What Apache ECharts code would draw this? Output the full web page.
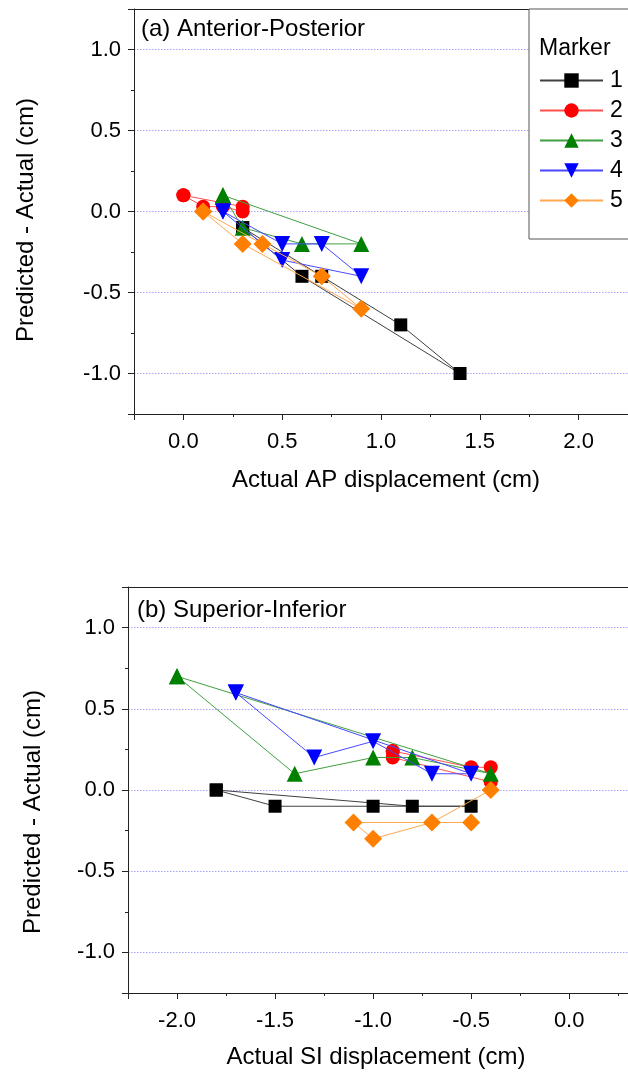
<!DOCTYPE html>
<html>
<head>
<meta charset="utf-8">
<script src="https://cdn.jsdelivr.net/npm/echarts@6/dist/echarts.min.js"></script>
<style>
html,body{margin:0;padding:0;background:#fff;}
#chart{width:628px;height:1079px;}
</style>
</head>
<body>
<div id="chart"></div>
<script>
// ---- Data: (a) Anterior-Posterior: [actual AP displacement, predicted - actual] ----
const markerNames = ['1', '2', '3', '4', '5'];
const ap1 = [[0.3, -0.1], [0.7, -0.4], [1.1, -0.7], [1.4, -1.0], [0.6, -0.4], [0.3, -0.1]];
const ap2 = [[0.0, 0.1], [0.3, 0.03], [0.3, 0.0], [0.2, 0.03], [0.1, 0.03], [0.0, 0.1]];
const ap3 = [[0.2, 0.1], [0.9, -0.2], [0.6, -0.2], [0.3, -0.1], [0.2, 0.1]];
const ap4 = [[0.2, 0.0], [0.5, -0.2], [0.7, -0.2], [0.9, -0.4], [0.5, -0.3], [0.2, 0.0]];
const ap5 = [[0.1, 0.0], [0.4, -0.2], [0.7, -0.4], [0.9, -0.6], [0.3, -0.2], [0.1, 0.0]];

// ---- Data: (b) Superior-Inferior: [actual SI displacement, predicted - actual] ----
const si1 = [[-1.8, 0.0], [-1.5, -0.1], [-1.0, -0.1], [-0.5, -0.1], [-0.8, -0.1], [-1.8, 0.0]];
const si2 = [[-0.9, 0.24], [-0.5, 0.14], [-0.4, 0.14], [-0.4, 0.05], [-0.9, 0.2], [-0.9, 0.24]];
const si3 = [[-2.0, 0.7], [-1.4, 0.1], [-1.0, 0.2], [-0.8, 0.2], [-0.4, 0.1], [-2.0, 0.7]];
const si4 = [[-1.7, 0.6], [-1.3, 0.2], [-1.0, 0.3], [-0.7, 0.1], [-0.5, 0.1], [-1.7, 0.6]];
const si5 = [[-0.5, -0.2], [-1.1, -0.2], [-1.0, -0.3], [-0.7, -0.2], [-0.4, 0.0]];

const apData = [ap1, ap2, ap3, ap4, ap5];
const siData = [si1, si2, si3, si4, si5];

// ---- Styles ----
const FONT = 'Liberation Sans, Arial, sans-serif';
const symbols = ['rect', 'circle', 'triangle', 'triangle', 'diamond'];
const symbolRot = [0, 0, 0, 180, 0];
const symbolSizes = [13, 14, 16, 16, 18];
const markColors = ['#000000', '#ff0000', '#008000', '#0000ff', '#ff8000'];
const lineColors = ['#404040', '#ff5050', '#40a040', '#4848ff', '#ffa850'];

function makeSeries(dataSets, xi, yi) {
  return dataSets.map((d, i) => ({
    name: markerNames[i],
    type: 'line',
    xAxisIndex: xi,
    yAxisIndex: yi,
    data: d,
    symbol: symbols[i],
    symbolRotate: symbolRot[i],
    symbolSize: symbolSizes[i],
    showAllSymbol: true,
    animation: false,
    itemStyle: { color: markColors[i] },
    lineStyle: { color: lineColors[i], width: 1 },
    z: 3 + i
  }));
}

const axisCol = '#222';
function xMain(grid, min, max) {
  return {
    type: 'value', gridIndex: grid, position: 'bottom', min: min, max: max,
    splitNumber: 5,
    axisLine: { show: true, onZero: false, lineStyle: { color: axisCol, width: 1 } },
    axisTick: { show: true, inside: false, length: 6, lineStyle: { color: axisCol } },
    minorTick: { show: true, splitNumber: 2, length: 3, lineStyle: { color: axisCol } },
    splitLine: { show: false },
    axisLabel: {
      show: true, margin: 17, color: '#000', fontSize: 22, fontFamily: FONT,
      showMinLabel: false, showMaxLabel: false,
      formatter: v => v.toFixed(1)
    }
  };
}
function xFrame(grid, min, max) {
  return {
    type: 'value', gridIndex: grid, position: 'top', min: min, max: max,
    axisLine: { show: true, onZero: false, lineStyle: { color: axisCol, width: 1 } },
    axisTick: { show: false }, axisLabel: { show: false }, splitLine: { show: false }
  };
}
function yMain(grid) {
  return {
    type: 'value', gridIndex: grid, min: -1.25, max: 1.25, splitNumber: 5,
    axisLine: { show: true, onZero: false, lineStyle: { color: axisCol, width: 1 } },
    axisTick: { show: true, inside: false, length: 6, lineStyle: { color: axisCol } },
    minorTick: { show: true, splitNumber: 2, length: 3, lineStyle: { color: axisCol } },
    splitLine: {
      show: true, showMinLine: false, showMaxLine: false,
      lineStyle: { color: '#a4a4ff', type: [1.5, 1.5], width: 1 }
    },
    axisLabel: {
      show: true, margin: 13, color: '#000', fontSize: 22, fontFamily: FONT,
      showMinLabel: false, showMaxLabel: false,
      formatter: v => v.toFixed(1)
    }
  };
}

const chart = echarts.init(document.getElementById('chart'), null, { renderer: 'canvas' });
const option = {
  backgroundColor: '#ffffff',
  animation: false,
  grid: [
    { left: 134, top: 9, width: 498, height: 405, containLabel: false },
    { left: 128, top: 587, width: 506, height: 406, containLabel: false }
  ],
  xAxis: [
    xMain(0, -0.25, 2.25), xFrame(0, -0.25, 2.25),
    xMain(1, -2.25, 0.3), xFrame(1, -2.25, 0.3)
  ],
  yAxis: [yMain(0), yMain(1)],
  legend: {
    data: markerNames,
    orient: 'vertical',
    left: 529, top: 9,
    padding: [60, 40, 27, 10],
    itemGap: 7,
    itemWidth: 63,
    itemHeight: 18,
    borderColor: '#555',
    borderWidth: 1,
    backgroundColor: '#fff',
    textStyle: { fontSize: 23, fontFamily: FONT, color: '#000', padding: [0, 0, 0, 2] },
    selectedMode: false
  },
  graphic: [
    { type: 'text', left: 141, top: 17, z: 100,
      style: { text: '(a) Anterior-Posterior', font: '24px ' + FONT, fill: '#000' } },
    { type: 'text', left: 137, top: 598, z: 100,
      style: { text: '(b) Superior-Inferior', font: '24px ' + FONT, fill: '#000' } },
    { type: 'text', left: 539, top: 37, z: 100,
      style: { text: 'Marker', font: '23px ' + FONT, fill: '#000' } },
    { type: 'text', x: 26, y: 220, rotation: Math.PI / 2, z: 100,
      style: { text: 'Predicted - Actual (cm)', font: '24px ' + FONT, fill: '#000',
               align: 'center', verticalAlign: 'middle' } },
    { type: 'text', x: 33, y: 812, rotation: Math.PI / 2, z: 100,
      style: { text: 'Predicted - Actual (cm)', font: '24px ' + FONT, fill: '#000',
               align: 'center', verticalAlign: 'middle' } },
    { type: 'text', x: 386, y: 480, z: 100,
      style: { text: 'Actual AP displacement (cm)', font: '24px ' + FONT, fill: '#000',
               align: 'center', verticalAlign: 'middle' } },
    { type: 'text', x: 376, y: 1057, z: 100,
      style: { text: 'Actual SI displacement (cm)', font: '24px ' + FONT, fill: '#000',
               align: 'center', verticalAlign: 'middle' } }
  ],
  series: [].concat(makeSeries(apData, 0, 0), makeSeries(siData, 2, 1))
};
chart.setOption(option);
</script>
</body>
</html>
